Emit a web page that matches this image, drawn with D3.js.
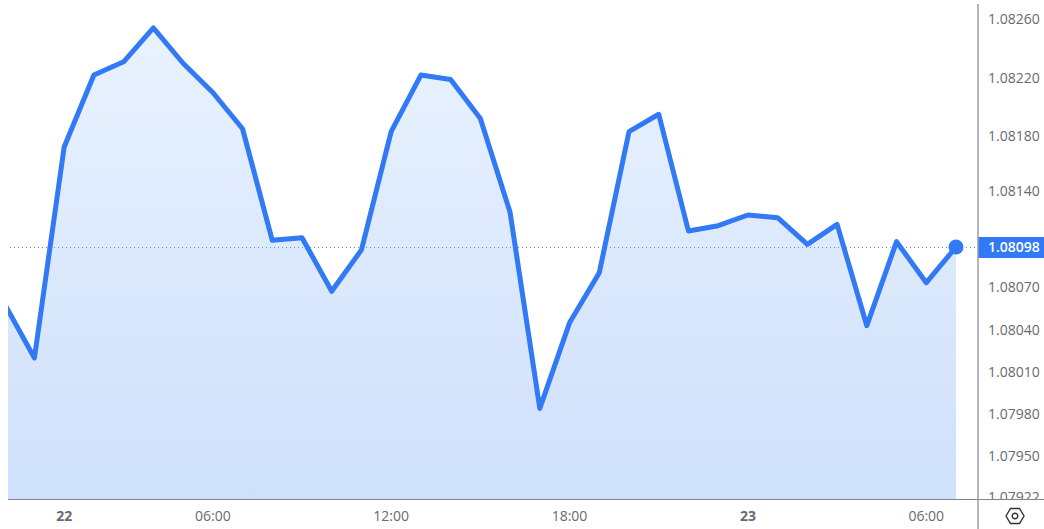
<!DOCTYPE html>
<html>
<head>
<meta charset="utf-8">
<script src="https://cdnjs.cloudflare.com/ajax/libs/d3/7.8.5/d3.min.js"></script>
<style>
html, body { margin: 0; padding: 0; background: #fff; }
svg { display: block; font-family: "Open Sans", sans-serif; }
</style>
</head>
<body>
<svg id="chart" width="1044" height="529"></svg>
<script>
// hourly closes, first point is cut by the plot edge
var prices = [1.08058, 1.08020, 1.08172, 1.08222, 1.08231, 1.08254, 1.08230, 1.08210,
    1.08185, 1.08103, 1.08105, 1.08067, 1.08096, 1.08183, 1.08222, 1.08219, 1.08192,
    1.08124, 1.07984, 1.08045, 1.08080, 1.08183, 1.08195, 1.08110, 1.08114, 1.08122,
    1.08120, 1.08100, 1.08115, 1.08043, 1.08102, 1.08073, 1.08098];
var lastPrice = 1.08098;

var priceTicks = [1.08260, 1.08220, 1.08180, 1.08140, 1.08098, 1.08070, 1.08040, 1.08010, 1.07980, 1.07950, 1.07922];
var timeTicks = [2, 7, 13, 19, 25, 31];
var timeLabels = ['22', '06:00', '12:00', '18:00', '23', '06:00'];
var boldLabels = ['22', '23'];

var width = 1044, height = 529;
var plot = { left: 8, right: 978, bottom: 499 };
var tickY = [19, 78, 136, 191, 247, 287, 330, 372, 414, 456, 497];

var svg = d3.select('#chart');

var x = d3.scaleLinear().domain([0, prices.length - 1]).range([4.7, 956]);
var y = d3.scaleLinear().domain(priceTicks).range(tickY);

var defs = svg.append('defs');
defs.append('clipPath').attr('id', 'plot-clip')
    .append('rect').attr('x', plot.left).attr('y', 0)
    .attr('width', plot.right - plot.left).attr('height', plot.bottom);
defs.append('clipPath').attr('id', 'axis-clip')
    .append('rect').attr('x', plot.right).attr('y', 0)
    .attr('width', width - plot.right).attr('height', plot.bottom);

var grad = defs.append('linearGradient').attr('id', 'area-fill')
    .attr('x1', 0).attr('y1', 0).attr('x2', 0).attr('y2', 1)
    .attr('gradientUnits', 'objectBoundingBox');
grad.append('stop').attr('offset', '0%').attr('stop-color', '#e9f2fe');
grad.append('stop').attr('offset', '100%').attr('stop-color', '#cfe0fb');

var g = svg.append('g').attr('clip-path', 'url(#plot-clip)');

var area = d3.area()
    .x(function(d, i) { return x(i); })
    .y0(plot.bottom)
    .y1(function(d) { return y(d); });

var line = d3.line()
    .x(function(d, i) { return x(i); })
    .y(function(d) { return y(d); });

g.append('path').datum(prices)
    .attr('d', area)
    .attr('fill', 'url(#area-fill)');

// last price marker line
g.append('line')
    .attr('x1', plot.left + 2).attr('x2', plot.right)
    .attr('y1', y(lastPrice) + 0.5).attr('y2', y(lastPrice) + 0.5)
    .attr('stroke', '#5b8ff0')
    .attr('stroke-width', 1)
    .attr('stroke-dasharray', '1 3');

g.append('path').datum(prices)
    .attr('d', line)
    .attr('fill', 'none')
    .attr('stroke', '#3179f5')
    .attr('stroke-width', 5)
    .attr('stroke-linejoin', 'round');

g.append('circle')
    .attr('cx', x(prices.length - 1)).attr('cy', y(lastPrice))
    .attr('r', 7.5)
    .attr('fill', '#3179f5');

// price axis
var priceLabels = svg.append('g').attr('clip-path', 'url(#axis-clip)');
priceLabels.selectAll('text')
    .data(priceTicks.filter(function(d) { return d !== lastPrice; }))
    .enter().append('text')
    .attr('x', 988)
    .attr('y', function(d) { return y(d); })
    .attr('dy', '0.35em')
    .attr('font-size', 14)
    .attr('fill', '#676a75')
    .text(function(d) { return d.toFixed(5); });

svg.append('rect')
    .attr('x', plot.right).attr('y', y(lastPrice) - 10)
    .attr('width', width - plot.right).attr('height', 21)
    .attr('fill', '#3179f5');
svg.append('text')
    .attr('x', 988).attr('y', y(lastPrice) + 0.5)
    .attr('dy', '0.35em')
    .attr('font-size', 14)
    .attr('font-weight', 600)
    .attr('fill', '#fff')
    .text(lastPrice.toFixed(5));

// time axis
svg.selectAll('.time-label')
    .data(timeTicks)
    .enter().append('text')
    .attr('class', 'time-label')
    .attr('x', function(d) { return x(d); })
    .attr('y', 516)
    .attr('dy', '0.35em')
    .attr('text-anchor', 'middle')
    .attr('font-size', 14)
    .attr('font-weight', function(d, i) { return boldLabels.indexOf(timeLabels[i]) >= 0 ? 700 : 400; })
    .attr('fill', '#676a75')
    .text(function(d, i) { return timeLabels[i]; });

// frame
svg.append('line')
    .attr('x1', plot.left).attr('x2', width)
    .attr('y1', 499.5).attr('y2', 499.5)
    .attr('stroke', '#80838c').attr('stroke-width', 1.2);
svg.append('line')
    .attr('x1', 978).attr('x2', 978)
    .attr('y1', 4).attr('y2', height)
    .attr('stroke', '#9a9ca3').attr('stroke-width', 1.5);

// settings icon
var icon = svg.append('g').attr('transform', 'translate(1015,516)')
    .attr('fill', 'none').attr('stroke', '#2f323a').attr('stroke-width', 1.4);
icon.append('path').attr('d', 'M-9,0L-4.5,-7.5L4.5,-7.5L9,0L4.5,7.5L-4.5,7.5Z');
icon.append('circle').attr('r', 2.8);
</script>
</body>
</html>
